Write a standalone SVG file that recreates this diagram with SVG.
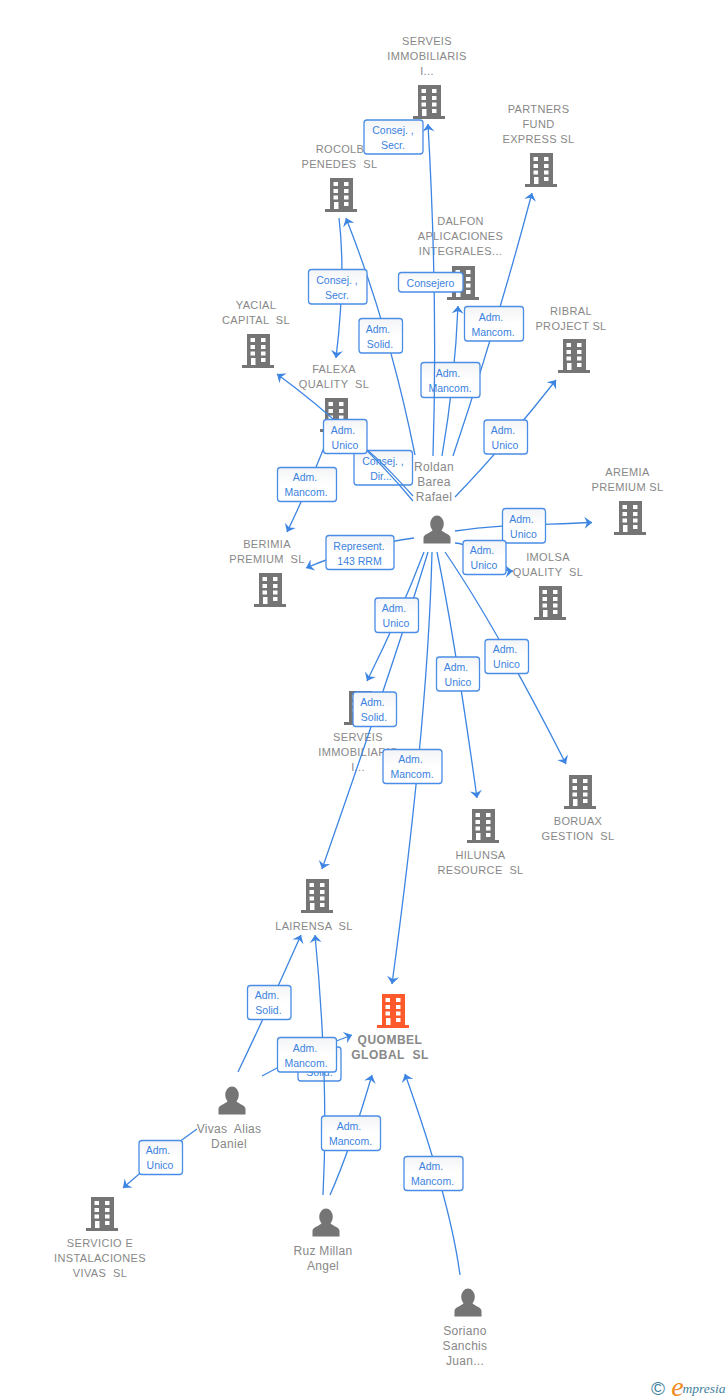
<svg xmlns="http://www.w3.org/2000/svg" width="728" height="1400" viewBox="0 0 728 1400">
<style>
text{font-family:"Liberation Sans",Arial,sans-serif;white-space:pre;text-anchor:middle}
.n{font-size:11px;fill:#888;letter-spacing:.35px}
.q{font-size:12px;fill:#888;font-weight:bold;letter-spacing:.5px}
.p{font-size:12px;fill:#888;letter-spacing:.3px}
.l{font-size:10.500px;fill:#3b82e0}
.b{fill:#757575}
.c{fill:none;stroke:#3d85e2;stroke-width:1.300;marker-end:url(#a)}
.r{fill:url(#g);stroke:#4a8de6;stroke-width:1.300}
</style>
<defs>
<linearGradient id="g" x1="0" y1="0" x2="0" y2="1"><stop offset="0" stop-color="#f3f4f6"/><stop offset=".5" stop-color="#fff"/><stop offset="1" stop-color="#fff"/></linearGradient>
<marker id="a" markerUnits="userSpaceOnUse" markerWidth="14" markerHeight="14" viewBox="-9 -7 11 14" refX="0" refY="0" orient="auto"><path d="M0,0 L-7.500,-6 L-5,0 L-7.500,6 Z" fill="#3d85e2"/></marker>
<symbol id="bld" overflow="visible"><path fill-rule="evenodd" d="M0,0H23V31H27V34H-5V31H0ZM3.500,4V8H8V4ZM14,4V8H18.500V4ZM3.500,11V15H8V11ZM14,11V15H18.500V11ZM3.500,17.500V21.500H8V17.500ZM14,17.500V21.500H18.500V17.500ZM14,24V28H18.500V24ZM4,24V31H8.500V24Z"/></symbol>
<symbol id="per" overflow="visible"><ellipse cx="0" cy="8" rx="6.800" ry="8.500"/><path d="M-13.500,27.500V22C-13.500,18.500 -8,17.500 -4,14L4,14C8,17.500 13.500,18.500 13.500,22V27.500Z"/></symbol>
</defs>
<rect width="728" height="1400" fill="#fff"/>
<g id="node-serveis-top"><use href="#bld" x="418" y="85" class="b"/><text class="n" x="427" y="45">SERVEIS</text><text class="n" x="427" y="60">IMMOBILIARIS</text><text class="n" x="427" y="75">I...</text></g>
<g id="node-partners"><use href="#bld" x="530" y="153" class="b"/><text class="n" x="538.500" y="113">PARTNERS</text><text class="n" x="538.500" y="128">FUND</text><text class="n" x="538.500" y="143">EXPRESS SL</text></g>
<g id="node-rocolb"><use href="#bld" x="330" y="178" class="b"/><text class="n" x="340" y="153">ROCOLB</text><text class="n" x="339.500" y="168">PENEDES  SL</text></g>
<g id="node-dalfon"><use href="#bld" x="452" y="266" class="b"/><text class="n" x="460.500" y="225">DALFON</text><text class="n" x="460.500" y="240">APLICACIONES</text><text class="n" x="460.500" y="255">INTEGRALES...</text></g>
<g id="node-yacial"><use href="#bld" x="247" y="334" class="b"/><text class="n" x="256" y="309">YACIAL</text><text class="n" x="256" y="324">CAPITAL  SL</text></g>
<g id="node-ribral"><use href="#bld" x="563" y="339" class="b"/><text class="n" x="571" y="315">RIBRAL</text><text class="n" x="571" y="330">PROJECT SL</text></g>
<g id="node-falexa"><use href="#bld" x="325" y="398" class="b"/><text class="n" x="334" y="373">FALEXA</text><text class="n" x="334" y="388">QUALITY  SL</text></g>
<g id="node-aremia"><use href="#bld" x="619" y="501" class="b"/><text class="n" x="627.500" y="476">AREMIA</text><text class="n" x="627.500" y="491">PREMIUM SL</text></g>
<g id="node-berimia"><use href="#bld" x="259" y="573" class="b"/><text class="n" x="267" y="548">BERIMIA</text><text class="n" x="267" y="563">PREMIUM  SL</text></g>
<g id="node-imolsa"><use href="#bld" x="539" y="586" class="b"/><text class="n" x="548" y="561">IMOLSA</text><text class="n" x="548" y="576">QUALITY  SL</text></g>
<g id="node-serveis-mid"><use href="#bld" x="349" y="691" class="b"/><text class="n" x="358" y="741">SERVEIS</text><text class="n" x="358" y="756">IMMOBILIARIS</text><text class="n" x="358" y="771">I...</text></g>
<g id="node-hilunsa"><use href="#bld" x="472" y="809" class="b"/><text class="n" x="480.500" y="859">HILUNSA</text><text class="n" x="480.500" y="874">RESOURCE  SL</text></g>
<g id="node-boruax"><use href="#bld" x="569" y="775" class="b"/><text class="n" x="578" y="825">BORUAX</text><text class="n" x="578" y="840">GESTION  SL</text></g>
<g id="node-lairensa"><use href="#bld" x="306" y="879" class="b"/><text class="n" x="314" y="930">LAIRENSA  SL</text></g>
<g id="node-quombel"><use href="#bld" x="382" y="994" fill="#ff5a2b"/><text class="q" x="390" y="1043.500">QUOMBEL</text><text class="q" x="390" y="1058.500">GLOBAL  SL</text></g>
<g id="node-servicio"><use href="#bld" x="91" y="1197" class="b"/><text class="n" x="100" y="1247">SERVICIO E</text><text class="n" x="100" y="1262">INSTALACIONES</text><text class="n" x="100" y="1277">VIVAS  SL</text></g>
<g id="node-roldan"><use href="#per" x="437" y="516" class="b"/><text class="p" x="434" y="471">Roldan</text><text class="p" x="434" y="486">Barea</text><text class="p" x="434" y="501">Rafael</text></g>
<g id="node-vivas"><use href="#per" x="232" y="1087" class="b"/><text class="p" x="229" y="1133">Vivas  Alias</text><text class="p" x="229" y="1148">Daniel</text></g>
<g id="node-ruz"><use href="#per" x="326" y="1209" class="b"/><text class="p" x="323" y="1255">Ruz Millan</text><text class="p" x="323" y="1270">Angel</text></g>
<g id="node-soriano"><use href="#per" x="468" y="1289" class="b"/><text class="p" x="465" y="1335">Soriano</text><text class="p" x="465" y="1350">Sanchis</text><text class="p" x="465" y="1365">Juan...</text></g>
<g id="connectors-under">
<path class="c" d="M453,456 Q497,325 532,193"/>
<path class="c" d="M442,456 Q455,380 458,306"/>
</g>
<g id="labels-under">
<g><rect class="r" x="421" y="362.500" width="59" height="35" rx="3"/><text class="l" x="448" y="376.500">Adm.</text><text class="l" x="450" y="391.500">Mancom.</text></g>
<g><rect class="r" x="354" y="450.500" width="58.500" height="34.500" rx="3"/><text class="l" x="383" y="464.500">Consej. ,</text><text class="l" x="381" y="479.500">Dir...</text></g>
<g><rect class="r" x="298" y="1047" width="43" height="34" rx="3"/><text class="l" x="319.500" y="1061">Adm.</text><text class="l" x="319.500" y="1076">Solid.</text></g>
</g>
<g id="connectors">
<path class="c" d="M433,456 Q438,300 428,124"/>
<path class="c" d="M339,218 Q346,275 336,358"/>
<path class="c" d="M415,455 Q390,330 346,218"/>
<path class="c" d="M413,501 Q356,432 277,374"/>
<path class="c" d="M413,496 C385,465 365,445 345,435 C335,430 328,438 323,450 Q305,495 287,532"/>
<path class="c" d="M455,497 Q505,445 556,380"/>
<path class="c" d="M455,531 C500,524 540,525 592,522.500"/>
<path class="c" d="M455,543 C480,545 495,572 513,571"/>
<path class="c" d="M414,538 Q360,545 306,568"/>
<path class="c" d="M424,552 Q400,615 367,681"/>
<path class="c" d="M428,552 Q395,660 322,869"/>
<path class="c" d="M432,552 Q428,720 392,984"/>
<path class="c" d="M437,552 Q455,640 477,798"/>
<path class="c" d="M445,552 Q495,625 566,764"/>
<path class="c" d="M238,1072 Q270,1005 301,935"/>
<path class="c" d="M262,1076 Q305,1052 352,1035"/>
<path class="c" d="M323,1195 Q329,1080 315,935"/>
<path class="c" d="M330,1195 Q350,1150 372,1075"/>
<path class="c" d="M460,1275 Q450,1200 405,1074"/>
<path class="c" d="M197,1129 Q160,1155 123,1188"/>
</g>
<g id="labels">
<g><rect class="r" x="364" y="120" width="59" height="34" rx="3"/><text class="l" x="393" y="133.500">Consej. ,</text><text class="l" x="393" y="148.500">Secr.</text></g>
<g><rect class="r" x="308.500" y="269.500" width="58.500" height="34.500" rx="3"/><text class="l" x="337" y="283.500">Consej. ,</text><text class="l" x="337" y="298.500">Secr.</text></g>
<g><rect class="r" x="398.500" y="272.500" width="64.500" height="19.500" rx="3"/><text class="l" x="430.500" y="286.500">Consejero</text></g>
<g><rect class="r" x="464.500" y="306.500" width="59" height="34.500" rx="3"/><text class="l" x="491" y="320.500">Adm.</text><text class="l" x="493" y="335.500">Mancom.</text></g>
<g><rect class="r" x="359" y="318.500" width="43.500" height="34.500" rx="3"/><text class="l" x="378" y="332.500">Adm.</text><text class="l" x="380" y="347.500">Solid.</text></g>
<g><rect class="r" x="484" y="420" width="43.500" height="34" rx="3"/><text class="l" x="503" y="434">Adm.</text><text class="l" x="505" y="449">Unico</text></g>
<g><rect class="r" x="323.500" y="419.500" width="43.500" height="34" rx="3"/><text class="l" x="343" y="434">Adm.</text><text class="l" x="345" y="449">Unico</text></g>
<g><rect class="r" x="277.500" y="467.500" width="59" height="34" rx="3"/><text class="l" x="305" y="481">Adm.</text><text class="l" x="306" y="496">Mancom.</text></g>
<g><rect class="r" x="326" y="535.500" width="68" height="34" rx="3"/><text class="l" x="359" y="549.500">Represent.</text><text class="l" x="359.500" y="564.500">143 RRM</text></g>
<g><rect class="r" x="502.500" y="508.500" width="43" height="34.500" rx="3"/><text class="l" x="521.500" y="522.500">Adm.</text><text class="l" x="523.500" y="537.500">Unico</text></g>
<g><rect class="r" x="463" y="540.500" width="43" height="34" rx="3"/><text class="l" x="482" y="553.500">Adm.</text><text class="l" x="484" y="568.500">Unico</text></g>
<g><rect class="r" x="375" y="598" width="43.500" height="34.500" rx="3"/><text class="l" x="394" y="611.500">Adm.</text><text class="l" x="396" y="626.500">Unico</text></g>
<g><rect class="r" x="353" y="692" width="43.500" height="34.500" rx="3"/><text class="l" x="372.500" y="705.500">Adm.</text><text class="l" x="374" y="720.500">Solid.</text></g>
<g><rect class="r" x="383" y="749.500" width="59" height="34" rx="3"/><text class="l" x="410.500" y="763">Adm.</text><text class="l" x="412" y="778">Mancom.</text></g>
<g><rect class="r" x="436.500" y="657" width="43" height="34" rx="3"/><text class="l" x="456" y="671">Adm.</text><text class="l" x="458" y="686">Unico</text></g>
<g><rect class="r" x="485" y="639.500" width="43.500" height="34" rx="3"/><text class="l" x="505" y="653">Adm.</text><text class="l" x="506.500" y="668">Unico</text></g>
<g><rect class="r" x="247.500" y="985.500" width="43.500" height="34" rx="3"/><text class="l" x="267" y="999">Adm.</text><text class="l" x="268.500" y="1014">Solid.</text></g>
<g><rect class="r" x="277.500" y="1037.500" width="59" height="34.500" rx="3"/><text class="l" x="305" y="1051.500">Adm.</text><text class="l" x="306" y="1066.500">Mancom.</text></g>
<g><rect class="r" x="321.500" y="1116" width="59" height="34.500" rx="3"/><text class="l" x="349" y="1129.500">Adm.</text><text class="l" x="350.500" y="1144.500">Mancom.</text></g>
<g><rect class="r" x="404" y="1156.500" width="59" height="34" rx="3"/><text class="l" x="431" y="1170">Adm.</text><text class="l" x="432.500" y="1185">Mancom.</text></g>
<g><rect class="r" x="139" y="1140.500" width="43.500" height="34" rx="3"/><text class="l" x="158" y="1154">Adm.</text><text class="l" x="160" y="1169">Unico</text></g>
</g>
<g id="logo">
<text x="658" y="1395" font-size="19" fill="#3d7f9c">©</text>
<text x="677.500" y="1396" font-size="28" fill="#f08a1d" font-style="italic" style="font-family:'Liberation Serif',serif">e</text>
<text x="704" y="1393" font-size="13.500" fill="#3d7f9c" font-style="italic" style="font-family:'Liberation Serif',serif">mpresia</text>
</g>
</svg>
